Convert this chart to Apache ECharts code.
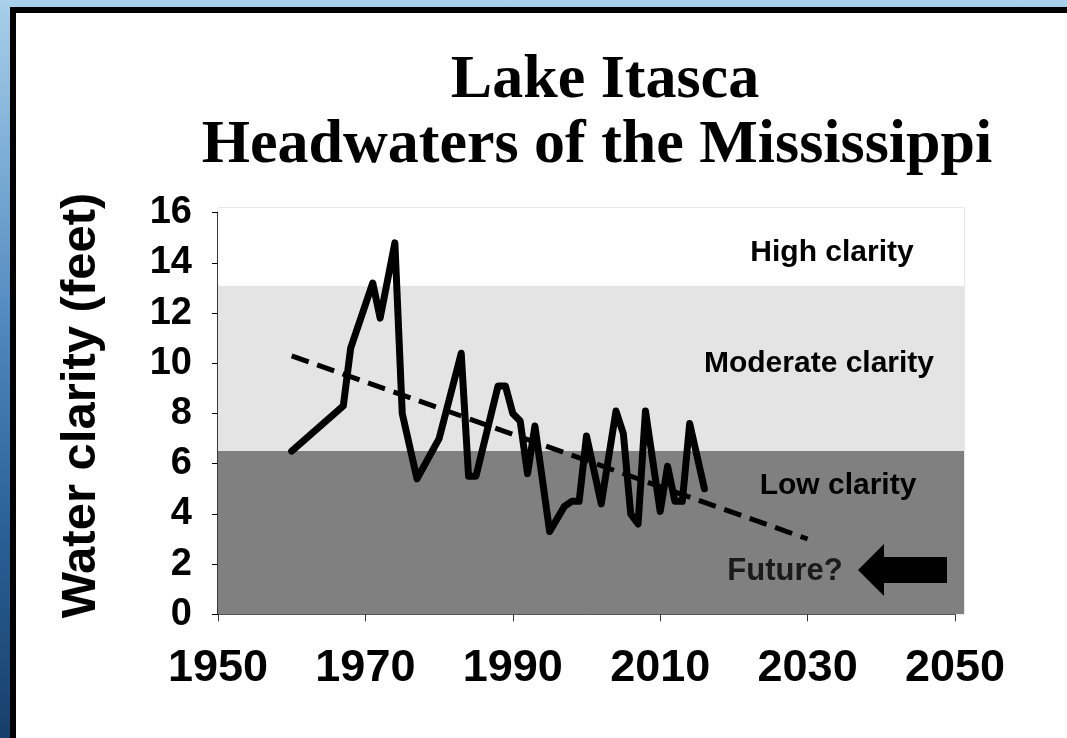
<!DOCTYPE html>
<html>
<head>
<meta charset="utf-8">
<script src="https://cdn.jsdelivr.net/npm/echarts@6/dist/echarts.min.js"></script>
<style>
  html, body { margin: 0; padding: 0; width: 1067px; height: 738px; overflow: hidden; }
  body { background: linear-gradient(180deg, #a9cfea 0%, #7fb0d8 20%, #4f87bd 45%, #2c6399 70%, #173f6c 100%); position: relative; }
  #frame { position: absolute; left: 10px; top: 7px; right: 0; bottom: 0; background: #ffffff; border-left: 6px solid #000; border-top: 6px solid #000; }
  #chart { position: absolute; left: 0; top: 0; width: 1067px; height: 738px; }
</style>
</head>
<body>
<div id="frame"></div>
<div id="chart"></div>
<script>
// ---- data ----
const years   = [1960, 1967, 1968, 1971, 1972, 1974, 1975, 1977, 1980, 1983, 1984, 1985, 1988, 1989, 1990, 1991, 1992, 1993, 1995, 1997, 1998, 1999, 2000, 2002, 2004, 2005, 2006, 2007, 2008, 2010, 2011, 2012, 2013, 2014, 2016];
const clarity = [6.5, 8.3, 10.6, 13.2, 11.8, 14.8, 8.0, 5.4, 7.0, 10.4, 5.5, 5.5, 9.1, 9.1, 8.0, 7.7, 5.6, 7.5, 3.3, 4.3, 4.5, 4.5, 7.1, 4.4, 8.1, 7.2, 4.0, 3.6, 8.1, 4.1, 5.9, 4.5, 4.5, 7.6, 5.0];
const trendYears  = [1960, 2030];
const trendValues = [10.3, 3.0];
const bandEdges  = [0, 6.5, 13.1, 16.2];   // low / moderate / high clarity limits (feet)
const bandNames  = ['Low clarity', 'Moderate clarity', 'High clarity'];
const xTicks = [1950, 1970, 1990, 2010, 2030, 2050];
const yTicks = [0, 2, 4, 6, 8, 10, 12, 14, 16];
const titleLines = ['Lake Itasca', 'Headwaters of the Mississippi'];
const yTitle = 'Water clarity (feet)';
const futureLabel = 'Future?';

// ---- chart ----
const chart = echarts.init(document.getElementById('chart'), null, { renderer: 'canvas' });
const lineData  = years.map((y, i) => [y, clarity[i]]);
const trendData = trendYears.map((y, i) => [y, trendValues[i]]);
const bandColors = ['#808080', '#e4e4e4', '#ffffff'];
const bandAreas = bandColors.map((c, i) => [
  { yAxis: bandEdges[i], itemStyle: { color: c } },
  { yAxis: bandEdges[i + 1] }
]);

const sans = '"Liberation Sans", Arial, sans-serif';
const bandLabelStyle = { fontFamily: sans, fontWeight: 'bold', fontSize: 30, fill: '#000', align: 'center', verticalAlign: 'middle' };

chart.setOption({
  backgroundColor: 'transparent',
  animation: false,
  title: [
    { text: titleLines[0], left: 600, top: 45, textAlign: 'center',
      textStyle: { fontFamily: '"Liberation Serif", "Times New Roman", serif', fontWeight: 'bold', fontSize: 62, color: '#000' } },
    { text: titleLines[1], left: 592, top: 110, textAlign: 'center',
      textStyle: { fontFamily: '"Liberation Serif", "Times New Roman", serif', fontWeight: 'bold', fontSize: 62, color: '#000' } }
  ],
  grid: [
    { left: 218, top: 208, width: 746, height: 406, show: true, borderColor: '#d2d2d2', borderWidth: 1, backgroundColor: '#ffffff' },
    { left: 218, top: 212.7, width: 737, height: 401.6 }
  ],
  xAxis: [
    { gridIndex: 0, type: 'value', min: 1950, max: 2051.1, show: false },
    { gridIndex: 1, type: 'value', min: 1950, max: 2050, interval: 20,
      axisLine: { show: true, lineStyle: { color: '#555', width: 1 } },
      axisTick: { show: true, length: 7, lineStyle: { color: '#333', width: 1 } },
      splitLine: { show: false },
      axisLabel: { color: '#000', fontFamily: sans, fontWeight: 'bold', fontSize: 45, margin: 32,
        formatter: v => String(v) } }
  ],
  yAxis: [
    { gridIndex: 0, type: 'value', min: 0, max: 16.2, show: false },
    { gridIndex: 1, type: 'value', min: 0, max: 16, interval: 2,
      name: yTitle, nameLocation: 'middle', nameRotate: 90, nameGap: 112,
      nameTextStyle: { color: '#000', fontFamily: sans, fontWeight: 'bold', fontSize: 49, padding: [0, 0, 0, 16] },
      axisLine: { show: true, lineStyle: { color: '#000', width: 1.5 } },
      axisTick: { show: true, length: 6, lineStyle: { color: '#000', width: 1 } },
      splitLine: { show: false },
      axisLabel: { color: '#000', fontFamily: sans, fontWeight: 'bold', fontSize: 38, margin: 26,
        formatter: v => String(v) } }
  ],
  series: [
    { type: 'line', xAxisIndex: 0, yAxisIndex: 0, data: [], silent: true,
      markArea: { silent: true, data: bandAreas } },
    { type: 'line', name: 'Trend', xAxisIndex: 1, yAxisIndex: 1, data: trendData, symbol: 'none',
      lineStyle: { color: '#000', width: 5, type: [18, 9] }, z: 3 },
    { type: 'line', name: 'Secchi depth', xAxisIndex: 1, yAxisIndex: 1, data: lineData, symbol: 'none',
      lineStyle: { color: '#000', width: 7, cap: 'round', join: 'round' }, z: 4 }
  ],
  graphic: [
    { type: 'text', x: 832, y: 253, style: Object.assign({}, bandLabelStyle, { text: bandNames[2] }), z: 10 },
    { type: 'text', x: 819, y: 364, style: Object.assign({}, bandLabelStyle, { text: bandNames[1] }), z: 10 },
    { type: 'text', x: 838, y: 486, style: Object.assign({}, bandLabelStyle, { text: bandNames[0] }), z: 10 },
    { type: 'text', x: 785, y: 571, style: Object.assign({}, bandLabelStyle, { text: futureLabel, fontSize: 31, fill: '#1a1a1a' }), z: 10 },
    { type: 'polygon', z: 10, shape: { points: [[858, 570], [884, 544], [884, 557], [947, 557], [947, 583], [884, 583], [884, 596]] },
      style: { fill: '#000' } }
  ]
});
</script>
</body>
</html>
